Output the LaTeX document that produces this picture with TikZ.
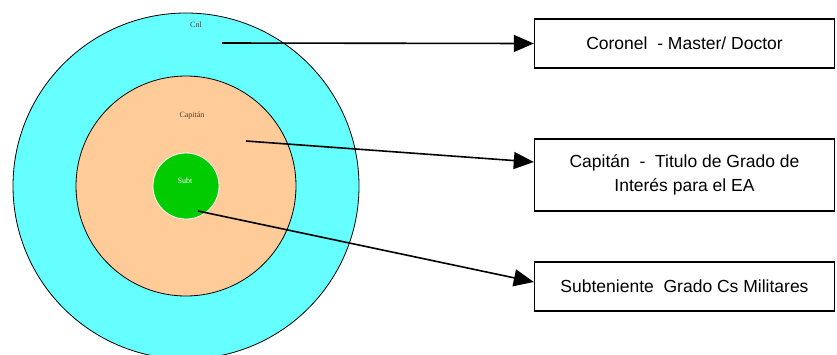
\documentclass[tikz,border=0pt]{standalone}
\usepackage{fontspec}
\setmainfont{Liberation Sans}
\newfontfamily\ringfont{Liberation Serif}
\usetikzlibrary{arrows.meta}
\definecolor{cnlcyan}{HTML}{66FFFF}
\definecolor{cappeach}{HTML}{FFCC99}
\definecolor{subtgreen}{HTML}{00CC00}
\begin{document}
\begin{tikzpicture}[x=1pt,y=-1pt,
ring/.style={circle,draw=black,line width=0.8pt,inner sep=0pt},
ringlabel/.style={font=\ringfont\fontsize{8}{9}\selectfont,text=black!75},
gradebox/.style={draw=black,line width=1.4pt,minimum width=300pt,align=center,
  font=\fontsize{17.5}{24.5}\selectfont},
link/.style={line width=1.6pt,-{Triangle[length=20pt,width=17pt]}}]
\useasboundingbox (0,0) rectangle (837,354);
% rings
\node[ring,fill=cnlcyan,minimum size=346pt] (cnl) at (186,186) {};
\node[ring,fill=cappeach,minimum size=220pt] (cap) at (186,186) {};
\node[ring,fill=subtgreen,draw=white,minimum size=66pt] (subt) at (186,186) {};
\node[ringlabel] (cnl-lbl) at (196,25) {Cnl};
\node[ringlabel] (cap-lbl) at (192,116) {Capitán};
\node[ringlabel,text=white] (subt-lbl) at (185,181) {Subt};
% boxes
\node[gradebox,minimum height=49pt] (coronel) at (684.5,43.5) {Coronel\ \ - Master/ Doctor};
\node[gradebox,minimum height=72pt] (capitan) at (684.5,175) {Capitán\ \ -\ \ Titulo de Grado de\\Interés para el EA};
\node[gradebox,minimum height=49pt] (subteniente) at (684.5,286.5) {Subteniente\ \ Grado Cs Militares};
% arrows
\coordinate (cnl-from) at (222,43);
\coordinate (cap-from) at (246,141);
\coordinate (subt-from) at (198,211);
\draw[link] (cnl-from) -- (coronel.west);
\draw[link] (cap-from) -- ([yshift=13pt]capitan.west);
\draw[link] (subt-from) -- ([yshift=4.5pt]subteniente.west);
\end{tikzpicture}
\end{document}
